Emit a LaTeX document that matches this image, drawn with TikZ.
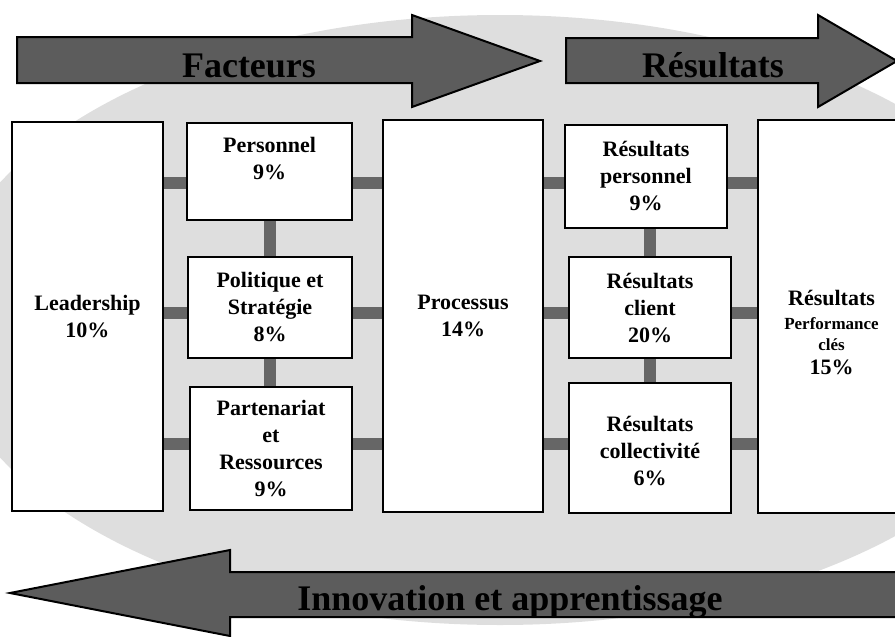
\documentclass[tikz,border=0pt]{standalone}
\usepackage{fontspec}
\setmainfont{Liberation Serif}
\usetikzlibrary{positioning, calc}
\definecolor{arrowgray}{gray}{0.36}
\definecolor{bargray}{gray}{0.40}
\definecolor{backgray}{gray}{0.87}
\pgfdeclarelayer{back}
\pgfsetlayers{back,main}
\tikzset{
  box/.style={draw, fill=white, line width=2pt, align=center, inner sep=0pt,
    font=\fontsize{22}{27}\selectfont\bfseries},
  link/.style={draw=bargray, line width=12pt},
  bigarrow/.style={draw, fill=arrowgray, line width=2pt, line join=miter},
  title/.style={anchor=base, font=\fontsize{36}{40}\selectfont\bfseries},
  small/.style={font=\fontsize{17}{21}\selectfont\bfseries}
}

\begin{document}
\begin{tikzpicture}[x=1pt, y=-1pt]
    \useasboundingbox (0,0) rectangle (895,637);
    \begin{pgfonlayer}{back}
      \fill[backgray] (500,320) ellipse [x radius=560, y radius=305];
    \end{pgfonlayer}

    \filldraw[bigarrow] (17,37) -- (412,37) -- (412,15) -- (540,61) -- (412,107) -- (412,83) -- (17,83) -- cycle;
    \filldraw[bigarrow] (566,38) -- (818,38) -- (818,15) -- (897,61) -- (818,107) -- (818,83) -- (566,83) -- cycle;
    \filldraw[bigarrow] (10,593) -- (230,550) -- (230,572) -- (905,572) -- (905,617) -- (230,617) -- (230,636) -- cycle;
    \node[title] (fact) at (249,77) {Facteurs};
    \node[title] (res) at (713,77) {Résultats};
    \node[title] (innov) at (510,610) {Innovation et apprentissage};

    \node[box, minimum width=151pt, minimum height=389pt] (lead) at (87.5,316.5) {Leadership\\10\%};
    \node[box, minimum width=165pt, minimum height=97pt] (pers) at (269.5,171.5) {Personnel\\9\%\\\mbox{}};
    \node[box, minimum width=164pt, minimum height=101pt] (pol) at (270,307.5) {Politique et\\Stratégie\\8\%};
    \node[box, minimum width=162pt, minimum height=123pt] (part) at (271,448.5) {Partenariat\\et\\Ressources\\9\%};
    \node[box, minimum width=160pt, minimum height=392pt] (proc) at (463,316) {Processus\\14\%};
    \node[box, minimum width=162pt, minimum height=103pt] (rpers) at (646,176.5) {Résultats\\personnel\\9\%};
    \node[box, minimum width=162pt, minimum height=101pt] (rcli) at (650,307.5) {Résultats\\client\\20\%};
    \node[box, minimum width=162pt, minimum height=130pt] (rcol) at (650,448) {\mbox{}\\[-6pt]Résultats\\collectivité\\6\%};
    \node[box, minimum width=147pt, minimum height=393pt] (rperf) at (831.5,316.5)
      {\mbox{}\\[20pt]Résultats\\[-3pt]{\fontsize{17}{21}\selectfont Performance}\\[-6pt]{\fontsize{17}{21}\selectfont clés}\\[-3pt]15\%};

    \coordinate (row1) at (0,183);
    \coordinate (row2) at (0,313);
    \coordinate (row3) at (0,444);
    \begin{pgfonlayer}{back}
      \foreach \r/\m/\n in {row1/pers/rpers, row2/pol/rcli, row3/part/rcol} {
        \draw[link] (lead.east |- \r) -- (\m.west |- \r);
        \draw[link] (\m.east |- \r) -- (proc.west |- \r);
        \draw[link] (proc.east |- \r) -- (\n.west |- \r);
        \draw[link] (\n.east |- \r) -- (rperf.west |- \r);
      }
      \draw[link] (pol.north) -- (pol.north |- pers.south);
      \draw[link] (pol.south) -- (pol.south |- part.north);
      \draw[link] (rcli.north) -- (rcli.north |- rpers.south);
      \draw[link] (rcli.south) -- (rcli.south |- rcol.north);
    \end{pgfonlayer}
\end{tikzpicture}
\end{document}
